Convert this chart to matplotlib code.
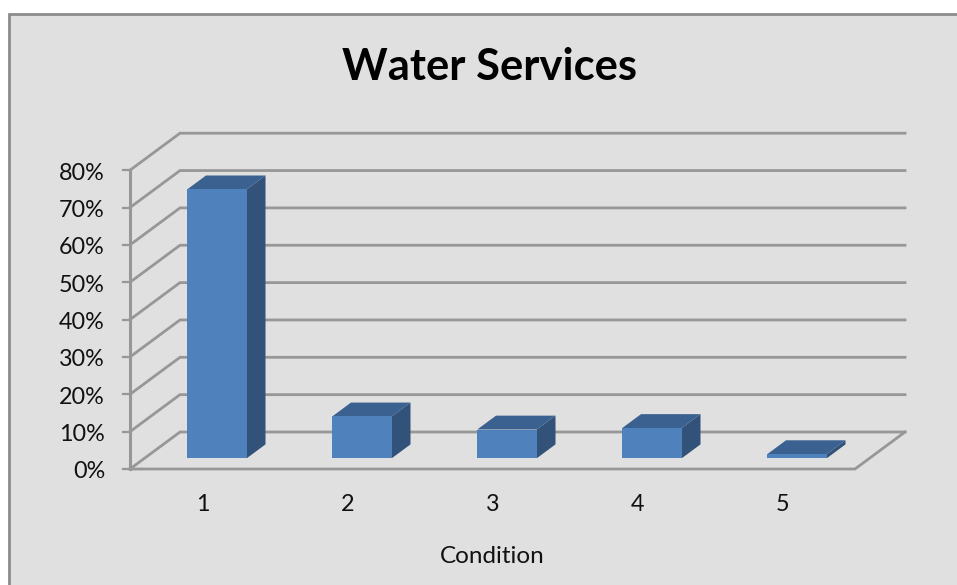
import matplotlib
matplotlib.use('Agg')
import matplotlib.pyplot as plt
from matplotlib.patches import Polygon, Rectangle

# ── Data ──────────────────────────────────────────────────────────────────────
categories = [1, 2, 3, 4, 5]
values = [72, 11.2, 7.7, 8.1, 1.1]
y_ticks = [0, 10, 20, 30, 40, 50, 60, 70, 80]

# ── Canvas ────────────────────────────────────────────────────────────────────
W, H = 957, 585
PX_X = 145.0    # pixels per category
PX_Y = 3.735    # pixels per percent
X0, Y0 = 130, 469   # pixel position of the axis origin
DEPTH_X = 50 / PX_X  # depth of the box in data units
DEPTH_Y = 37 / PX_Y

fig = plt.figure(figsize=(W / 100, H / 100), dpi=100)
fig.patch.set_facecolor('#ffffff')
ax = fig.add_axes([0, 0, 1, 1])
ax.set_xlim(0.5 - X0 / PX_X, 0.5 + (W - X0) / PX_X)
ax.set_ylim((Y0 - H) / PX_Y, Y0 / PX_Y)
ax.axis('off')

FONT = ['Lato', 'DejaVu Sans']
GRID = '#979797'
FRONT = '#4f81bd'
TOP = '#3a6190'
SIDE = '#325279'


def px_w(p):
    return p / PX_X


def px_h(p):
    return p / PX_Y


x_left, x_right = 0.5, 5.5

# chart area runs off the right and bottom of the picture
ax.add_patch(Rectangle((0.5 + (9 - X0) / PX_X, (Y0 - H - 5) / PX_Y),
                       (W + 5 - 9) / PX_X, (H + 5 - 14) / PX_Y,
                       facecolor='#e0e0e0', edgecolor='#8c8c8c', lw=2, zorder=0))

# ── Walls and gridlines ───────────────────────────────────────────────────────
for t in y_ticks:
    ax.plot([x_left, x_left + DEPTH_X, x_right + DEPTH_X],
            [t, t + DEPTH_Y, t + DEPTH_Y],
            color=GRID, lw=2, solid_joinstyle='miter', zorder=1)
    ax.plot([x_left - px_w(7), x_left], [t, t], color=GRID, lw=1.6, zorder=1)
    ax.text(x_left - px_w(25), t - px_h(9.5), f'{t}%', fontsize=16.8, ha='right', va='baseline',
            color='#111111', family=FONT, zorder=5)

ax.plot([x_left, x_left], [y_ticks[0], y_ticks[-1]], color=GRID, lw=2.2, zorder=1)
ax.plot([x_left, x_right, x_right + DEPTH_X], [0, 0, DEPTH_Y],
        color=GRID, lw=2, solid_joinstyle='miter', zorder=1)

# ── Bars ──────────────────────────────────────────────────────────────────────
half = px_w(59.5) / 2
d0 = 0.29   # bar front and back, as fraction of the floor depth
d1 = 0.665
for c, v in zip(categories, values):
    xf0 = c - half + d0 * DEPTH_X
    xf1 = c + half + d0 * DEPTH_X
    yb = d0 * DEPTH_Y
    yt = yb + v
    dx = (d1 - d0) * DEPTH_X
    dy = (d1 - d0) * DEPTH_Y
    ax.add_patch(Polygon([(xf1, yb), (xf1 + dx, yb + dy), (xf1 + dx, yt + dy), (xf1, yt)],
                         facecolor=SIDE, edgecolor='none', zorder=3))
    ax.add_patch(Polygon([(xf0, yt), (xf1, yt), (xf1 + dx, yt + dy), (xf0 + dx, yt + dy)],
                         facecolor=TOP, edgecolor='none', zorder=3))
    ax.add_patch(Rectangle((xf0, yb), xf1 - xf0, v, facecolor=FRONT, edgecolor='none', zorder=4))
    ax.text(c, -px_h(42), str(c), fontsize=16.8, ha='center', va='baseline',
            color='#111111', family=FONT, zorder=5)

# ── Titles ────────────────────────────────────────────────────────────────────
ax.text(3.0 - px_w(3), px_h(Y0 - 80), 'Water Services', fontsize=31.3, fontweight='bold',
        ha='center', va='baseline', color='#000000', family=FONT, zorder=5)
ax.text(3.0 - px_w(0.5), -px_h(94), 'Condition', fontsize=17.5, ha='center', va='baseline',
        color='#111111', family=FONT, zorder=5)

plt.savefig('out.png', dpi=100, facecolor='white')
plt.close()
